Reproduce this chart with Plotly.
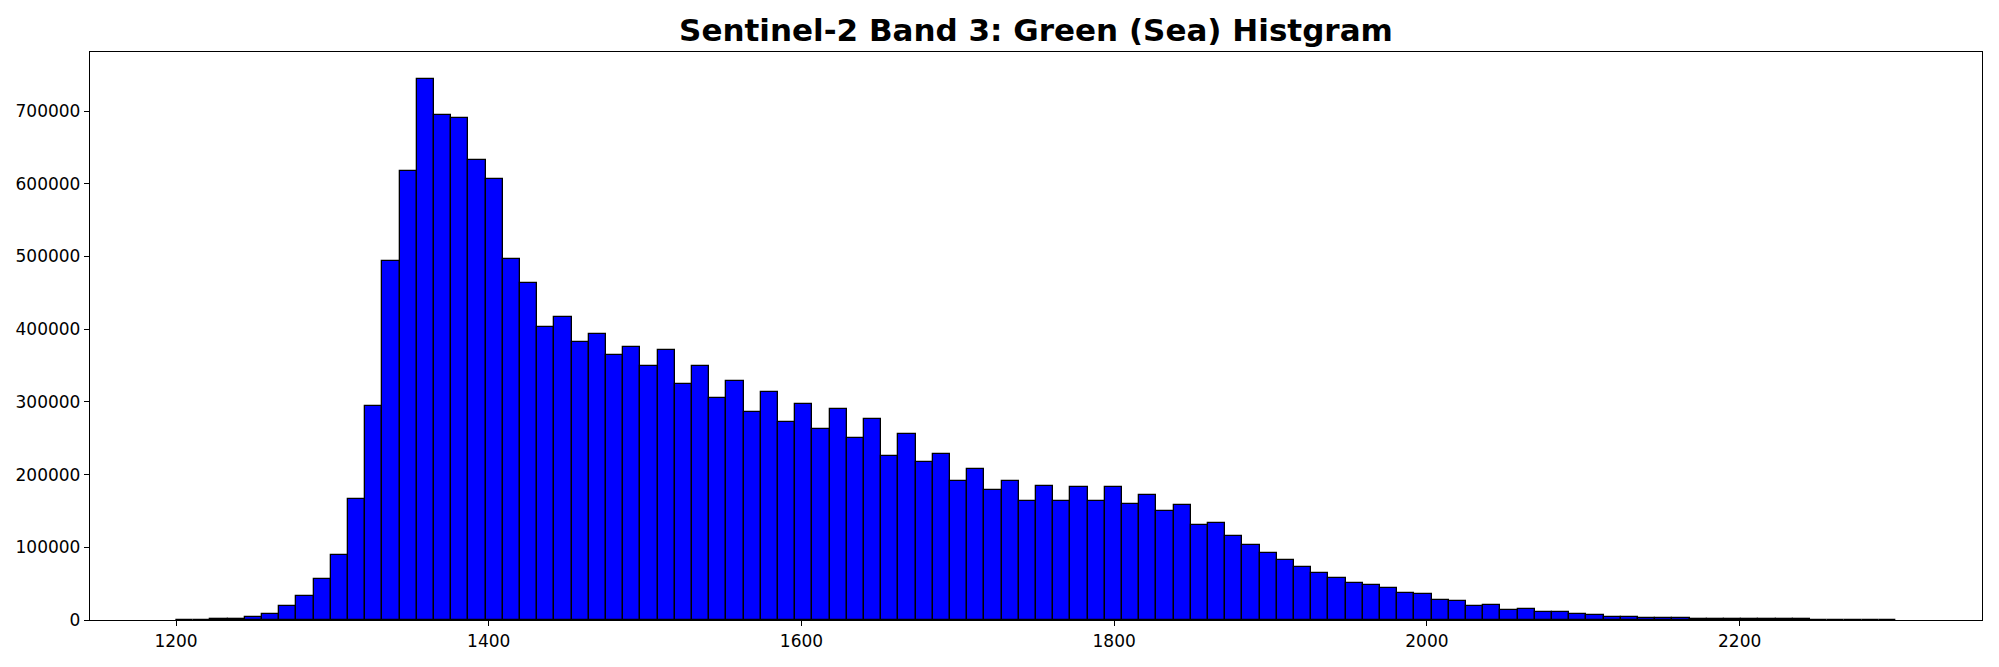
import numpy as np
import plotly.graph_objects as go

# histogram of band 3 (green) over sea pixels, 100 bins of width 11 from 1200 to 2300
bin_start = 1200
bin_width = 11

counts = [
    200, 500, 900, 1800, 4100, 8700, 19100, 32800, 56000, 89700,
    167000, 293700, 494000, 617000, 744000, 694000, 691000, 633000, 606000, 496000,
    464000, 403000, 417000, 383000, 393000, 364000, 375000, 350000, 371000, 325000,
    350000, 305000, 329000, 286000, 314000, 272000, 297000, 263000, 290000, 251000,
    277000, 226000, 256000, 218000, 229000, 191000, 207000, 179000, 191000, 164000,
    184500, 164000, 183000, 164000, 183000, 159000, 172000, 149500, 158000, 130000,
    133000, 115000, 102500, 92500, 82500, 72500, 64300, 58300, 51500, 48000,
    44600, 37400, 35500, 26900, 25500, 19100, 20500, 13700, 15600, 10900,
    10900, 8200, 6400, 4700, 4700, 3200, 3200, 2200, 1800, 1600,
    1500, 1000, 900, 800, 700, 600, 500, 0, 400, 300,
]

x_ticks = [1200, 1400, 1600, 1800, 2000, 2200]
y_ticks = [0, 100000, 200000, 300000, 400000, 500000, 600000, 700000]

title = "Sentinel-2 Band 3: Green (Sea) Histgram"

bin_lefts = bin_start + bin_width * np.arange(len(counts))
x_lo = bin_lefts[0]
x_hi = bin_lefts[-1] + bin_width
pad = 0.05 * (x_hi - x_lo)

fig = go.Figure(
    go.Bar(
        x=bin_lefts,
        y=counts,
        width=bin_width,
        offset=0,
        marker=dict(color="#0000ff", line=dict(color="black", width=1.3)),
    )
)

# the page body has an 8px margin, so the figure is a bit smaller than the window
fig.update_layout(
    width=1983,
    height=651,
    margin=dict(l=79, r=8, t=44, b=35),
    paper_bgcolor="white",
    plot_bgcolor="white",
    bargap=0,
    showlegend=False,
    font=dict(family="DejaVu Sans", size=17, color="black"),
    title=dict(
        text=title,
        font=dict(family="DejaVu Sans", size=31, color="black", weight="bold"),
        x=0.5,
        xref="paper",
        xanchor="center",
        y=0.966,
        yref="container",
        yanchor="middle",
    ),
    xaxis=dict(
        range=[x_lo - pad, x_hi + pad],
        tickvals=x_ticks,
        ticks="outside",
        ticklen=5,
        tickwidth=1,
        tickcolor="black",
        showline=True,
        linecolor="black",
        linewidth=1.3,
        mirror=True,
        showgrid=False,
        zeroline=False,
    ),
    yaxis=dict(
        range=[0, 1.05 * max(counts)],
        tickvals=y_ticks,
        tickformat="d",
        ticks="outside",
        ticklen=5,
        tickwidth=1,
        tickcolor="black",
        showline=True,
        linecolor="black",
        linewidth=1.3,
        mirror=True,
        showgrid=False,
        zeroline=False,
    ),
)

fig.write_html("out.html")
